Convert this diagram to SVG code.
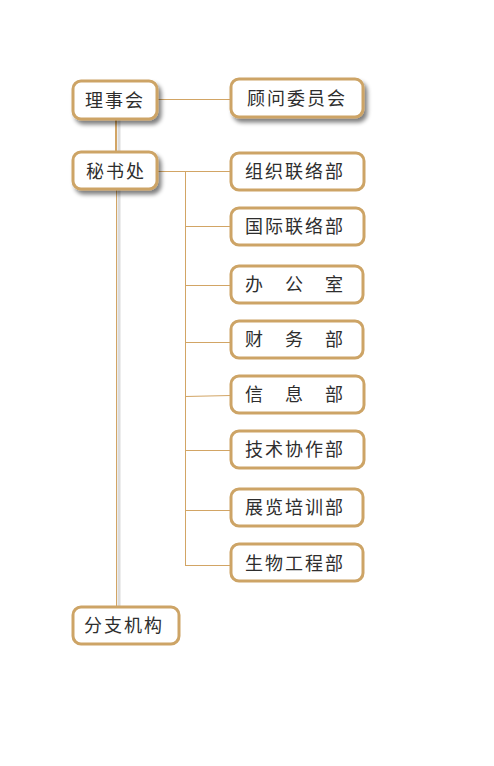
<svg xmlns="http://www.w3.org/2000/svg" width="494" height="766" viewBox="0 0 494 766">
<defs>
<filter id="sh" x="-20%" y="-30%" width="150%" height="180%">
<feGaussianBlur in="SourceAlpha" stdDeviation="2"/>
<feOffset dx="3" dy="4" result="b"/>
<feComponentTransfer><feFuncA type="linear" slope="0.5"/></feComponentTransfer>
<feMerge><feMergeNode/><feMergeNode in="SourceGraphic"/></feMerge>
</filter>
<style>
.box{fill:#fff;stroke:#cda466;stroke-width:3}
.t{font-family:"Noto Sans CJK SC","Noto Sans",sans-serif;font-size:18px;fill:#2e2e2e;letter-spacing:2px}
.ln{stroke:#d2a565;stroke-width:1;fill:none}
.shl{stroke:#dcdcdc;stroke-width:3;fill:none}
</style>
</defs>
<rect width="494" height="766" fill="#fff"/>
<g id="connectors">
<line class="shl" x1="119" y1="119" x2="119" y2="152"/>
<line class="ln" x1="116" y1="119" x2="116" y2="152" style="stroke-width:2"/>
<line class="shl" x1="119" y1="190" x2="119" y2="607"/>
<line class="ln" x1="116.5" y1="190" x2="116.5" y2="607"/>
<line class="ln" x1="157" y1="99.5" x2="231" y2="99.5"/>
<line class="ln" x1="157" y1="171.5" x2="231" y2="171.5"/>
<line class="ln" x1="185.5" y1="171" x2="185.5" y2="566"/>
<line class="ln" x1="185" y1="226.5" x2="231" y2="226.5"/>
<line class="ln" x1="185" y1="285.5" x2="231" y2="285.5"/>
<line class="ln" x1="185" y1="342.5" x2="231" y2="342.5"/>
<line class="ln" x1="185" y1="396.5" x2="231" y2="395.5"/>
<line class="ln" x1="185" y1="450.5" x2="231" y2="450.5"/>
<line class="ln" x1="185" y1="510.5" x2="231" y2="510.5"/>
<line class="ln" x1="185" y1="565.5" x2="231" y2="565.5"/>
</g>
<g id="n-lishihui"><rect class="box" x="73" y="81" width="84" height="38" rx="8" filter="url(#sh)"/><text class="t" x="85" y="107">理事会</text></g>
<g id="n-guwen"><rect class="box" x="231" y="79" width="132" height="38" rx="8" filter="url(#sh)"/><text class="t" x="247" y="105">顾问委员会</text></g>
<g id="n-mishuchu"><rect class="box" x="73" y="152" width="84" height="37" rx="8" filter="url(#sh)"/><text class="t" x="86" y="178">秘书处</text></g>
<g id="n-zuzhi"><rect class="box" x="231" y="153" width="133" height="37" rx="8"/><text class="t" x="245" y="178">组织联络部</text></g>
<g id="n-guoji"><rect class="box" x="231" y="208" width="133" height="37" rx="8"/><text class="t" x="245" y="233">国际联络部</text></g>
<g id="n-bangongshi"><rect class="box" x="231" y="266" width="132" height="37" rx="8"/><text class="t" x="245" y="291">办　公　室</text></g>
<g id="n-caiwu"><rect class="box" x="231" y="321" width="132" height="37" rx="8"/><text class="t" x="245" y="346">财　务　部</text></g>
<g id="n-xinxi"><rect class="box" x="231" y="376" width="133" height="37" rx="8"/><text class="t" x="245" y="401">信　息　部</text></g>
<g id="n-jishu"><rect class="box" x="231" y="431" width="133" height="37" rx="8"/><text class="t" x="245" y="456">技术协作部</text></g>
<g id="n-zhanlan"><rect class="box" x="231" y="489" width="132" height="37" rx="8"/><text class="t" x="245" y="514">展览培训部</text></g>
<g id="n-shengwu"><rect class="box" x="231" y="544" width="132" height="37" rx="8"/><text class="t" x="245" y="570">生物工程部</text></g>
<g id="n-fenzhi"><rect class="box" x="73" y="607" width="106" height="37" rx="8"/><text class="t" x="84" y="632">分支机构</text></g>
</svg>
